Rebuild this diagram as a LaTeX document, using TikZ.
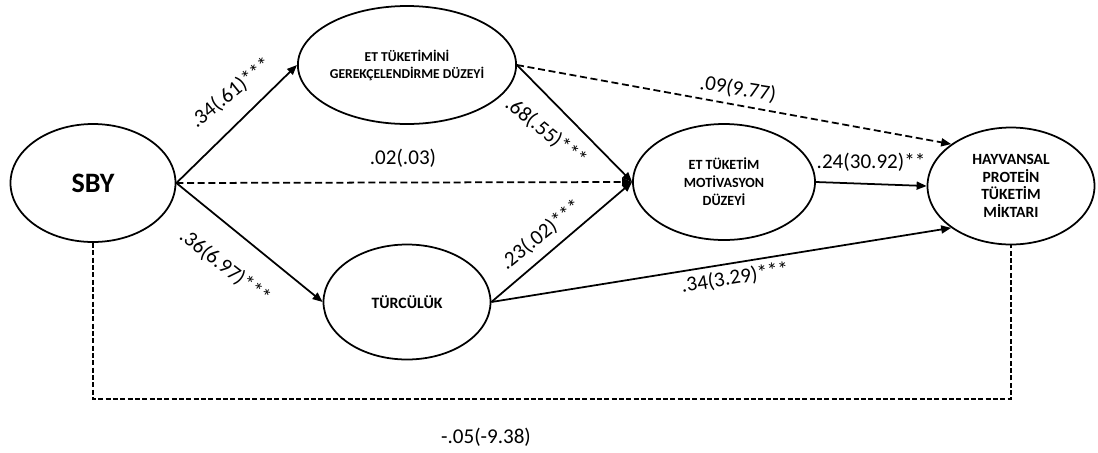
\documentclass[tikz,border=0pt]{standalone}
\usepackage{fontspec}
\setmainfont{Carlito}
\usetikzlibrary{shapes.geometric,arrows.meta}
\tikzset{
	latent/.style={draw, ellipse, line width=1.5pt, inner sep=0pt, align=center},
	effect/.style={line width=1.5pt, -{Triangle[length=3mm,width=2.4mm]}},
	nseffect/.style={effect, dash pattern=on 2.1mm off 1.1mm},
	coef/.style={inner sep=0pt, font=\fontsize{18}{21}\selectfont},
}

\begin{document}
\begin{tikzpicture}[x=0.3mm, y=-0.3mm]
	\useasboundingbox (0,0) rectangle (1098,452);
	
	\node[latent, minimum width=49.5mm, minimum height=35.4mm, font=\bfseries\fontsize{24}{28}\selectfont] (sby) at (93,183) {SBY};
	\node[latent, minimum width=50.1mm, minimum height=35.4mm, font=\bfseries\fontsize{11.6}{14.5}\selectfont] (gerek) at (407,65) {ET TÜKETİMİNİ\\GEREKÇELENDİRME DÜZEYİ};
	\node[latent, minimum width=50.1mm, minimum height=34.5mm, font=\bfseries\fontsize{13.5}{16}\selectfont] (turc) at (407,302) {TÜRCÜLÜK};
	\node[latent, minimum width=54.6mm, minimum height=34.8mm, font=\bfseries\fontsize{12}{15.4}\selectfont] (motiv) at (724,182) {ET TÜKETİM\\MOTİVASYON\\DÜZEYİ};
	\node[latent, minimum width=50.1mm, minimum height=35.1mm, font=\bfseries\fontsize{13.3}{15.1}\selectfont] (hayv) at (1011,186) {HAYVANSAL\\PROTEİN\\TÜKETİM\\MİKTARI};
	\coordinate (base) at (0,399);
	
	\draw[effect] (sby.east) -- (gerek.west);
	\draw[effect] (sby.east) -- (turc.west);
	\draw[nseffect] (sby.east) -- (motiv.west);
	\draw[effect] (gerek.east) -- (motiv.west);
	\draw[effect] (turc.east) -- (motiv.west);
	\draw[nseffect] (gerek.east) -- (hayv.145);
	\draw[effect] (turc.east) -- (hayv.215);
	\draw[effect] (motiv.east) -- (hayv.west);
	\draw[line width=1.1pt, dash pattern=on 1.5mm off 0.7mm] (sby.south) -- (sby.south |- base) -| (hayv.south);
	
	\node[coef, rotate=39] (c1) at (231,93) {.34(.61)***};
	\node[coef, rotate=-38] (c2) at (225,267) {.36(6.97)***};
	\node[coef] (c3) at (403,158) {.02(.03)};
	\node[coef, rotate=-9] (c4) at (738,89) {.09(9.77)};
	\node[coef, rotate=-39] (c5) at (546,132) {.68(.55)***};
	\node[coef, rotate=39] (c6) at (541,235) {.23(.02)***};
	\node[coef] (c7) at (871,162) {.24(30.92)**};
	\node[coef, rotate=9] (c8) at (735,278) {.34(3.29)***};
	\node[coef] (c9) at (486,437) {-.05(-9.38)};
\end{tikzpicture}
\end{document}
